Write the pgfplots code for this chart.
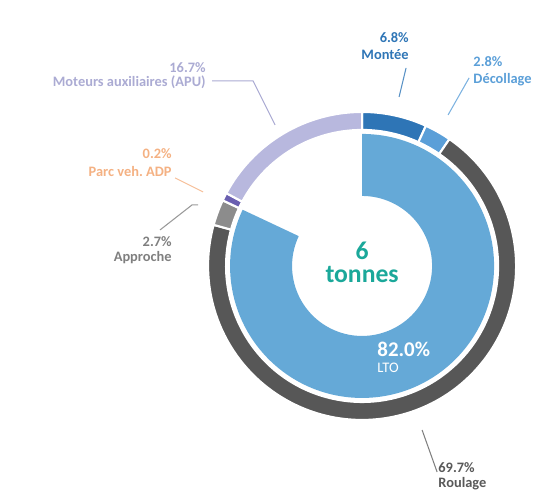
\documentclass[border=0pt]{standalone}
\usepackage{pgfplots}
\pgfplotsset{compat=1.18}
\usetikzlibrary{calc}
\usepackage{fontspec}
\setmainfont{Carlito}
\definecolor{cMontee}{HTML}{2E75B6}
\definecolor{cDecol}{HTML}{5B9FD8}
\definecolor{cRoul}{HTML}{575757}
\definecolor{cAppr}{HTML}{8C8C8C}
\definecolor{cParc}{HTML}{6A5FB0}
\definecolor{cAPU}{HTML}{B8B8DE}
\definecolor{cLTO}{HTML}{65A9D7}
\definecolor{tAPU}{HTML}{ABABD3}
\definecolor{tParc}{HTML}{F4B183}
\definecolor{tAppr}{HTML}{7F7F7F}
\definecolor{tRoul}{HTML}{595959}
\definecolor{tTeal}{HTML}{1BA89A}
% annular sector: start angle, end angle, inner r, outer r, style
\newcommand{\seg}[5]{\fill[#5] (axis cs:362,228) ++({#1}:#4) arc[start angle={#1}, end angle={#2}, radius=#4] -- ($(axis cs:362,228)+({#2}:#3)$) arc[start angle={#2}, end angle={#1}, radius=#3] -- cycle;}
\begin{document}
\begin{tikzpicture}
\path[use as bounding box] (0,0) rectangle (11.02cm,9.88cm);
\begin{axis}[
  at={(0,0)}, anchor=south west,
  x=0.02cm, y=0.02cm,
  xmin=0, xmax=551, ymin=0, ymax=494,
  hide axis, clip=false,
]
% inner ring: LTO = 82.0 %
\seg{90}{90-82.0*3.6}{1.40cm}{2.64cm}{cLTO}
% outer ring (percent of total, clockwise from top)
\seg{90}{90-6.8*3.6}{2.72cm}{3.08cm}{cMontee,draw=white,line width=1.2pt}
\seg{90-6.8*3.6}{90-(6.8+2.8)*3.6}{2.72cm}{3.08cm}{cDecol,draw=white,line width=1.2pt}
\seg{90-(6.8+2.8)*3.6}{90-(6.8+2.8+69.7)*3.6}{2.72cm}{3.08cm}{cRoul,draw=white,line width=1.2pt}
\seg{90-(6.8+2.8+69.7)*3.6}{90-(6.8+2.8+69.7+2.7)*3.6}{2.72cm}{3.08cm}{cAppr,draw=white,line width=1.2pt}
\seg{90-(6.8+2.8+69.7+2.7)*3.6}{90-(6.8+2.8+69.7+2.7)*3.6-3}{2.72cm}{3.08cm}{cParc,draw=white,line width=1.2pt}
\seg{90-(6.8+2.8+69.7+2.7)*3.6-3}{-270}{2.72cm}{3.08cm}{cAPU,draw=white,line width=1.2pt}
% leader lines
\draw[color=cMontee!80, line width=0.6pt] (axis cs:406,426) -- (axis cs:399,397);
\draw[color=cDecol!80, line width=0.6pt] (axis cs:469,416) -- (axis cs:448,379);
\draw[color=tAPU, line width=0.6pt] (axis cs:212,413) -- (axis cs:253,413) -- (axis cs:275,369);
\draw[color=tParc!80, line width=0.6pt] (axis cs:175,316) -- (axis cs:203,302);
\draw[color=tAppr!80, line width=0.6pt] (axis cs:160,264) -- (axis cs:192,289) -- (axis cs:198,289);
\draw[color=tAppr, line width=0.6pt] (axis cs:422,64) -- (axis cs:437,22);
% labels
\tikzset{lab/.style={inner sep=0pt, font=\fontsize{8.2}{9}\selectfont\bfseries}}
\node[lab, anchor=base east, text=cMontee] at (axis cs:409,451) {6.8\%};
\node[lab, anchor=base east, text=cMontee] at (axis cs:409,434) {Montée};
\node[lab, anchor=base west, text=cDecol] at (axis cs:473,427) {2.8\%};
\node[lab, anchor=base west, text=cDecol] at (axis cs:473,410) {Décollage};
\node[lab, anchor=base east, text=tAPU] at (axis cs:206,421) {16.7\%};
\node[lab, anchor=base east, text=tAPU] at (axis cs:206,407) {Moteurs auxiliaires (APU)};
\node[lab, anchor=base east, text=tParc] at (axis cs:172,335) {0.2\%};
\node[lab, anchor=base east, text=tParc] at (axis cs:172,317) {Parc veh.\ ADP};
\node[lab, anchor=base east, text=tAppr] at (axis cs:172,247) {2.7\%};
\node[lab, anchor=base east, text=tAppr] at (axis cs:172,232) {Approche};
\node[lab, anchor=base west, text=tRoul] at (axis cs:438,21) {69.7\%};
\node[lab, anchor=base west, text=tRoul] at (axis cs:438,6) {Roulage};
\node[inner sep=0pt, anchor=base, text=tTeal, font=\fontsize{14.6}{14}\selectfont\bfseries] at (axis cs:362,234) {6};
\node[inner sep=0pt, anchor=base, text=tTeal, font=\fontsize{14.6}{14}\selectfont\bfseries] at (axis cs:362,211) {tonnes};
\node[inner sep=0pt, anchor=base west, text=white, font=\fontsize{11.9}{12}\selectfont\bfseries] at (axis cs:377,137) {82.0\%};
\node[inner sep=0pt, anchor=base west, text=white, font=\fontsize{8.3}{9}\selectfont] at (axis cs:377,121) {LTO};
\end{axis}
\end{tikzpicture}
\end{document}
